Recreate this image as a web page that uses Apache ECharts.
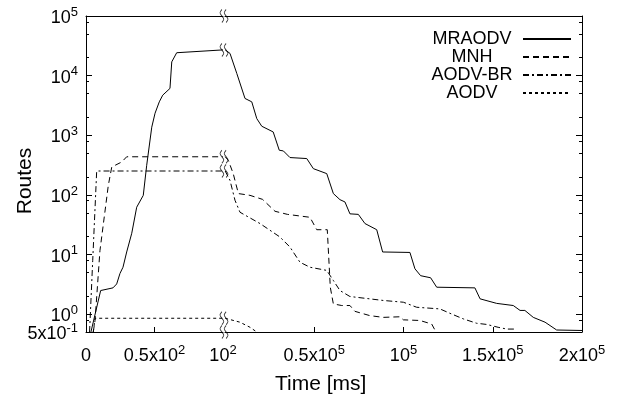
<!DOCTYPE html>
<html><head><meta charset="utf-8">
<script src="https://cdn.jsdelivr.net/npm/echarts@6/dist/echarts.min.js"></script>
<style>html,body{margin:0;padding:0;background:#fff}#c{width:620px;height:396px}</style>
</head><body><div id="c"></div>
<script>
const FONT = '"Liberation Sans", Arial, sans-serif';
const seriesNames = ['MRAODV', 'MNH', 'AODV-BR', 'AODV'];

// left segment: time 0..100 ms  [time, routes]
const mraodvLeft = [[3.6,0.5],[10.7,2.48],[19.7,2.75],[22.4,3.2],[24.8,4.8],[27,6.1],[29.7,11],[33.4,22.7],[37,62],[41.8,98],[44.3,313],[48,1365],[50.4,2340],[53.5,3630],[56,4700],[61.3,6100],[62.6,17000],[66.2,24200],[100,27000]];
const mnhLeft = [[5.3,0.5],[6.6,0.78],[10.2,11.7],[16.3,145],[18.8,293],[26.1,356],[29.7,435],[100,435]];
const aodvbrLeft = [[2.6,0.5],[4.9,7.9],[7.8,251],[100,251]];
const aodvLeft = [[5.3,0.5],[6.6,0.85],[100,0.85]];

// right segment: time 10^2 .. 2x10^5 ms
const mraodvRight = [[100,27000],[2800,23600],[6600,10900],[11200,4140],[15000,3630],[17800,1900],[20600,1415],[27000,1135],[30400,560],[32700,545],[36400,422],[45800,406],[49500,275],[57000,227],[60700,105],[64400,83],[67200,76],[70000,48],[74700,47],[78400,33],[85000,26],[88300,11],[103600,10.8],[106400,5.75],[109600,4.4],[115200,4.06],[118600,2.82],[140000,2.75],[142900,1.8],[152200,1.51],[161500,1.39],[165300,1.15],[168000,1.15],[172700,0.88],[179300,0.73],[185800,0.54],[200000,0.53]];
const mnhRight = [[100,435],[1850,380],[4600,227],[7500,105],[14000,98],[21000,84],[28000,53],[35000,47],[47600,42],[51400,26],[57300,26],[59000,2.8],[60700,1.48],[65400,1.39],[70000,1.39],[72800,1.11],[81200,0.94],[88700,0.88],[98000,0.9],[99900,0.8],[109200,0.78],[115800,0.68],[118200,0.5]];
const aodvbrRight = [[100,251],[2800,175],[5600,81],[8400,51],[19600,33],[30800,19.6],[36400,13.3],[42000,7.4],[47600,6.1],[57000,5.4],[60700,3.66],[64400,2.48],[70000,1.97],[88700,1.69],[99900,1.58],[107400,1.3],[120400,1.22],[126000,1.03],[133500,0.83],[141000,0.70],[146600,0.67],[153000,0.6],[157800,0.56],[162500,0.56]];
const aodvRight = [[100,0.85],[8400,0.73],[14000,0.6],[17800,0.5]];

// ticks
const yMin = 0.5, yMax = 100000;
const yTicks = [0.5, 1, 10, 100, 1000, 10000, 100000];
const yTickLabels = [['5x10','-1'],['10','0'],['10','1'],['10','2'],['10','3'],['10','4'],['10','5']];
const yMinorTicks = [0.8, 2, 5, 8, 20, 50, 80, 200, 500, 800, 2000, 5000, 8000, 20000, 50000, 80000];
const xLeftTicks = [0, 50, 100];
const xLeftLabels = [['0',''],['0.5x10','2'],['10','2']];
const xRightTicks = [50000, 100000, 150000, 200000];
const xRightLabels = [['0.5x10','5'],['10','5'],['1.5x10','5'],['2x10','5']];

const leftData = [mraodvLeft, mnhLeft, aodvbrLeft, aodvLeft];
const rightData = [mraodvRight, mnhRight, aodvbrRight, aodvRight];
const dashes = ['solid', [6,4], [6,3,2,3], [3,3]];

// nudge the ends slightly inside the extent so floating-point rounding does not drop them
const yTickPos = yTicks.map(v => v === yMin ? v * 1.0002 : (v === yMax ? v * 0.9998 : v));

function fmt(ticks, labels) {
  return function (v) {
    let i = -1;
    for (let k = 0; k < ticks.length; k++) if (Math.abs(ticks[k] - v) <= Math.abs(ticks[k]) * 1e-3 + 1e-9) i = k;
    if (i < 0) return '';
    const l = labels[i];
    return '{b|' + l[0] + '}' + (l[1] ? '{s|' + l[1] + '}' : '');
  };
}
const rich = {
  b: { fontSize: 18, lineHeight: 12, padding: [4.5, 0, 0, 0], fontFamily: FONT, color: '#000' },
  s: { fontSize: 13, lineHeight: 9, padding: [0, 0, 7.5, 0], fontFamily: FONT, color: '#000' }
};
const lineBlack = { show: true, onZero: false, lineStyle: { color: '#000', width: 1 } };

const breakPath = 'path://M3,0 C0,4 0,4 3,8 C6,12 6,12 3,16 M8,0 C5,4 5,4 8,8 C11,12 11,12 8,16';
const breakMarks = [[100, yMax], [100, yMin]].concat(leftData.map(a => a[a.length - 1]));

const series = [];
seriesNames.forEach((n, i) => {
  const ls = { color: '#000', width: 1, type: dashes[i], cap: 'butt' };
  series.push({ name: n, type: 'line', xAxisIndex: 0, yAxisIndex: 0, data: leftData[i], symbol: 'none', lineStyle: ls, itemStyle: { color: '#000' }, animation: false });
  series.push({ name: n, type: 'line', xAxisIndex: 1, yAxisIndex: 1, data: rightData[i], symbol: 'none', lineStyle: ls, itemStyle: { color: '#000' }, animation: false });
});
series.push({
  name: 'break', type: 'scatter', xAxisIndex: 0, yAxisIndex: 0, data: breakMarks,
  symbol: breakPath, symbolSize: [8, 13], symbolOffset: [1, 0], clip: false, z: 5,
  itemStyle: { color: 'rgba(0,0,0,0)', borderColor: '#000', borderWidth: 1 },
  emphasis: { disabled: true }, animation: false
});

const gL = { left: 86, top: 16, width: 137, height: 316 };
const gR = { left: 225, top: 16, width: 357, height: 316 };

const option = {
  animation: false,
  textStyle: { fontFamily: FONT, color: '#000' },
  grid: [gL, gR, gL, gR],
  title: { text: 'Time [ms]', left: 270, top: 369, textStyle: { fontSize: 21, fontWeight: 'normal', fontFamily: FONT, color: '#000' } },
  legend: {
    data: seriesNames, orient: 'vertical', left: 425, top: 25, align: 'right',
    itemWidth: 48, itemHeight: 10, itemGap: 0,
    itemStyle: { color: 'rgba(0,0,0,0)', borderColor: 'rgba(0,0,0,0)', borderWidth: 0, opacity: 0 },
    formatter: '{c|{name}}',
    textStyle: { fontSize: 18, fontFamily: FONT, color: '#000', rich: { c: { width: 84, align: 'center', padding: [0, 4, 0, 0], fontSize: 18, lineHeight: 18, fontFamily: FONT, color: '#000' } } }
  },
  xAxis: [
    { gridIndex: 0, type: 'value', position: 'bottom', min: 0, max: 100, axisLine: lineBlack,
      axisTick: { show: true, inside: true, length: 5, customValues: [50], lineStyle: { color: '#000' } },
      axisLabel: { customValues: xLeftTicks, formatter: fmt(xLeftTicks, xLeftLabels), rich: rich, margin: 16 },
      splitLine: { show: false } },
    { gridIndex: 1, type: 'value', position: 'bottom', min: 0, max: 200000, axisLine: lineBlack,
      axisTick: { show: true, inside: true, length: 5, customValues: [50000, 100000, 150000], lineStyle: { color: '#000' } },
      axisLabel: { customValues: xRightTicks, formatter: fmt(xRightTicks, xRightLabels), rich: rich, margin: 16 },
      splitLine: { show: false } },
    { gridIndex: 0, type: 'value', position: 'top', min: 0, max: 100, axisLine: lineBlack, axisTick: { show: false }, axisLabel: { show: false }, splitLine: { show: false } },
    { gridIndex: 1, type: 'value', position: 'top', min: 0, max: 200000, axisLine: lineBlack, axisTick: { show: false }, axisLabel: { show: false }, splitLine: { show: false } },
    { gridIndex: 2, type: 'value', show: false, min: 0, max: 100 },
    { gridIndex: 3, type: 'value', show: false, min: 0, max: 200000 }
  ],
  yAxis: [
    { gridIndex: 0, type: 'log', logBase: 10, position: 'left', min: yMin, max: yMax, axisLine: lineBlack,
      axisTick: { show: true, inside: true, length: 6, customValues: yTickPos, lineStyle: { color: '#000' } },
      axisLabel: { customValues: yTickPos.slice(1), formatter: fmt(yTicks, yTickLabels), rich: rich, margin: 8, showMinLabel: true, showMaxLabel: true, hideOverlap: false },
      splitLine: { show: false }, minorTick: { show: false },
      name: 'Routes', nameLocation: 'middle', nameRotate: 90, nameGap: 50, nameMoveOverlap: false,
      nameTextStyle: { fontSize: 21, fontFamily: FONT, color: '#000', padding: [0, 14, 0, 0] } },
    { gridIndex: 1, type: 'log', logBase: 10, position: 'right', min: yMin, max: yMax, axisLine: lineBlack,
      axisTick: { show: true, inside: true, length: 6, customValues: yTickPos, lineStyle: { color: '#000' } },
      axisLabel: { show: false }, splitLine: { show: false } },
    { gridIndex: 2, type: 'log', logBase: 10, position: 'left', min: yMin, max: yMax, axisLine: { show: false, onZero: false },
      axisTick: { show: true, inside: true, length: 3, customValues: yMinorTicks, lineStyle: { color: '#000' } },
      axisLabel: { customValues: yTickPos.slice(0, 1), formatter: fmt(yTicks, yTickLabels), rich: rich, margin: 8, showMinLabel: true, hideOverlap: false },
      splitLine: { show: false } },
    { gridIndex: 3, type: 'log', logBase: 10, position: 'right', min: yMin, max: yMax, axisLine: { show: false, onZero: false },
      axisTick: { show: true, inside: true, length: 3, customValues: yMinorTicks, lineStyle: { color: '#000' } },
      axisLabel: { show: false }, splitLine: { show: false } }
  ],
  series: series
};
const chart = echarts.init(document.getElementById('c'), null, { renderer: 'canvas' });
chart.setOption(option);
</script>
</body></html>
